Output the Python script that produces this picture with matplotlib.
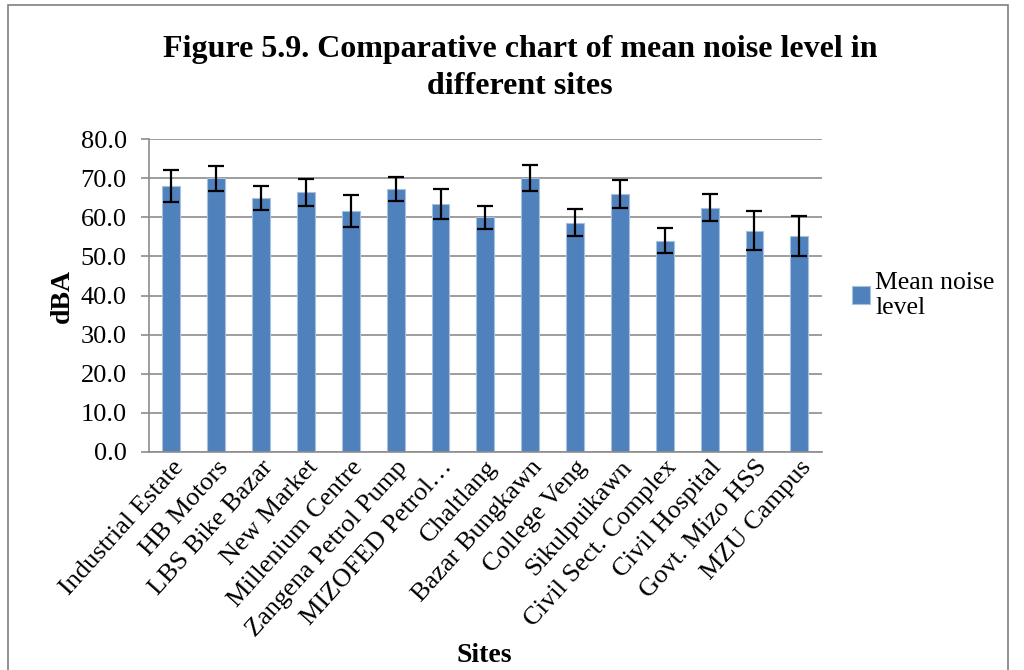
import matplotlib
matplotlib.use("Agg")
import matplotlib.pyplot as plt
from matplotlib.patches import Rectangle
import numpy as np

sites = ["Industrial Estate", "HB Motors", "LBS Bike Bazar", "New Market",
         "Millenium Centre", "Zangena Petrol Pump", "MIZOFED Petrol…",
         "Chaltlang", "Bazar Bungkawn", "College Veng", "Sikulpuikawn",
         "Civil Sect. Complex", "Civil Hospital", "Govt. Mizo HSS", "MZU Campus"]
mean_noise = [68.0, 70.0, 64.9, 66.4, 61.6, 67.3, 63.4, 60.0, 70.0, 58.6,
              65.9, 54.0, 62.5, 56.6, 55.2]
errors = [4.1, 3.15, 3.1, 3.4, 4.05, 3.05, 3.75, 2.9, 3.35, 3.45, 3.6, 3.25,
          3.5, 4.95, 5.2]
yticks = [0, 10, 20, 30, 40, 50, 60, 70, 80]

plt.rcParams['font.family'] = ['Liberation Serif', 'DejaVu Serif']

fig = plt.figure(figsize=(10.24, 6.7), dpi=100)
fig.patches.append(Rectangle((8 / 1024, -0.01), 1000 / 1024, 1.0 - 5 / 670 + 0.01,
                             transform=fig.transFigure, fill=False,
                             edgecolor='#808080', linewidth=1.2))
ax = fig.add_axes([0.1455, 0.3254, 0.657, 0.467])

x = np.arange(len(sites))
ax.bar(x, mean_noise, width=0.4, color='#4F81BD', edgecolor='#A7C0DE',
       linewidth=0.8, label='Mean noise\nlevel', zorder=2)
ax.errorbar(x, mean_noise, yerr=errors, fmt='none', ecolor='black',
            elinewidth=1.6, capsize=6, capthick=1.6, zorder=3)

ax.set_xlim(-0.5, len(sites) - 0.5)
ax.set_ylim(0, 80)
ax.set_yticks(yticks)
ax.set_yticklabels([f"{v:.1f}" for v in yticks], fontsize=19)
ax.yaxis.grid(True, color='#8C8C8C', linewidth=1.2, zorder=0)
ax.set_axisbelow(True)
ax.tick_params(axis='y', length=6, width=1.2, color='#8C8C8C', pad=10)
ax.tick_params(axis='x', length=0, pad=3)
ax.set_xticks(x)
ax.set_xticklabels(sites, rotation=48, ha='right', rotation_mode='anchor',
                   fontsize=19)
for s in ['top', 'right']:
    ax.spines[s].set_visible(False)
for s in ['left', 'bottom']:
    ax.spines[s].set_color('#8C8C8C')
    ax.spines[s].set_linewidth(1.2)

ax.set_ylabel('dBA', fontsize=20, fontweight='bold', labelpad=4)
fig.text(0.473, 0.012, 'Sites', fontsize=20, fontweight='bold', ha='center')
fig.suptitle('Figure 5.9. Comparative chart of mean noise level in\ndifferent sites',
             fontsize=23, fontweight='bold', x=0.508, y=0.948, linespacing=1.35)

ax.legend(loc='center left', bbox_to_anchor=(1.045, 0.5), frameon=False,
          fontsize=18.5, handlelength=0.7, handleheight=0.7, handletextpad=0.2,
          borderaxespad=0, borderpad=0)

fig.savefig('out.png', dpi=100)
